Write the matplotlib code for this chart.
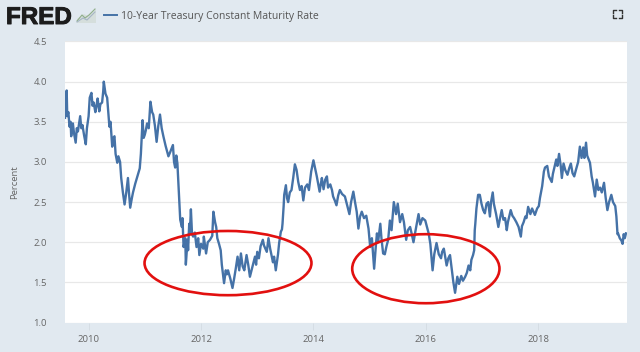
import matplotlib
matplotlib.use("Agg")
import matplotlib.pyplot as plt
from matplotlib.patches import Ellipse, Polygon
from matplotlib.lines import Line2D
import matplotlib.patheffects as pe

title = "10-Year Treasury Constant Maturity Rate"
y_label = "Percent"
x_ticks = [2010, 2012, 2014, 2016, 2018]
y_ticks = [1.0, 1.5, 2.0, 2.5, 3.0, 3.5, 4.0, 4.5]

years = [
 2009.58,2009.60,2009.61,2009.62,2009.64,2009.66,2009.68,2009.69,2009.72,2009.74,
 2009.77,2009.79,2009.81,2009.85,2009.87,2009.89,2009.92,2009.95,2009.97,2010.00,
 2010.02,2010.05,2010.07,2010.09,2010.12,2010.14,2010.16,2010.19,2010.21,2010.24,
 2010.26,2010.27,2010.30,2010.33,2010.37,2010.39,2010.42,2010.44,2010.46,2010.48,
 2010.51,2010.53,2010.56,2010.58,2010.61,2010.64,2010.67,2010.70,2010.72,2010.74,
 2010.77,2010.79,2010.83,2010.86,2010.91,2010.93,2010.96,2010.98,2011.00,2011.02,
 2011.04,2011.07,2011.10,2011.13,2011.15,2011.18,2011.21,2011.24,2011.27,2011.30,
 2011.33,2011.37,2011.42,2011.45,2011.50,2011.52,2011.54,2011.56,2011.58,2011.60,
 2011.63,2011.66,2011.67,2011.69,2011.72,2011.73,2011.76,2011.77,2011.79,2011.80,
 2011.82,2011.84,2011.86,2011.89,2011.92,2011.95,2011.97,2012.00,2012.04,2012.05,
 2012.09,2012.12,2012.16,2012.20,2012.22,2012.25,2012.27,2012.29,2012.32,2012.35,
 2012.37,2012.41,2012.44,2012.46,2012.48,2012.52,2012.56,2012.59,2012.62,2012.65,
 2012.68,2012.71,2012.74,2012.77,2012.81,2012.84,2012.87,2012.91,2012.96,2012.98,
 2013.00,2013.03,2013.06,2013.10,2013.12,2013.17,2013.20,2013.23,2013.28,2013.30,
 2013.33,2013.37,2013.39,2013.42,2013.44,2013.45,2013.47,2013.48,2013.51,2013.53,
 2013.55,2013.58,2013.61,2013.64,2013.67,2013.70,2013.73,2013.76,2013.79,2013.82,
 2013.85,2013.89,2013.92,2013.96,2014.00,2014.03,2014.06,2014.11,2014.13,2014.15,
 2014.18,2014.21,2014.24,2014.26,2014.30,2014.33,2014.35,2014.38,2014.41,2014.44,
 2014.47,2014.51,2014.56,2014.60,2014.64,2014.67,2014.71,2014.74,2014.77,2014.80,
 2014.83,2014.86,2014.90,2014.94,2014.98,2015.01,2015.04,2015.08,2015.11,2015.13,
 2015.15,2015.19,2015.21,2015.24,2015.27,2015.30,2015.33,2015.36,2015.39,2015.43,
 2015.47,2015.50,2015.54,2015.58,2015.61,2015.65,2015.68,2015.72,2015.75,2015.78,
 2015.81,2015.87,2015.90,2015.94,2015.99,2016.05,2016.08,2016.12,2016.15,2016.19,
 2016.23,2016.27,2016.29,2016.32,2016.37,2016.40,2016.43,2016.47,2016.49,2016.52,
 2016.56,2016.59,2016.63,2016.66,2016.70,2016.73,2016.76,2016.79,2016.81,2016.84,
 2016.86,2016.87,2016.88,2016.90,2016.93,2016.96,2016.99,2017.02,2017.05,2017.08,
 2017.11,2017.14,2017.16,2017.19,2017.21,2017.25,2017.29,2017.32,2017.35,2017.38,
 2017.41,2017.44,2017.46,2017.51,2017.54,2017.57,2017.61,2017.65,2017.69,2017.71,
 2017.74,2017.77,2017.79,2017.82,2017.86,2017.89,2017.94,2017.98,2018.01,2018.03,
 2018.07,2018.10,2018.12,2018.16,2018.19,2018.24,2018.26,2018.32,2018.34,2018.37,
 2018.40,2018.42,2018.45,2018.48,2018.52,2018.55,2018.58,2018.61,2018.64,2018.67,
 2018.71,2018.74,2018.77,2018.80,2018.82,2018.85,2018.87,2018.92,2018.95,2018.97,
 2019.01,2019.04,2019.07,2019.10,2019.13,2019.17,2019.20,2019.23,2019.26,2019.30,
 2019.33,2019.37,2019.39,2019.41,2019.42,2019.45,2019.48,2019.50,2019.52,2019.54,
 2019.56,
]
rates = [
 3.55,3.75,3.89,3.57,3.62,3.44,3.50,3.32,3.48,3.36,
 3.24,3.42,3.38,3.57,3.42,3.46,3.33,3.22,3.42,3.57,
 3.80,3.86,3.70,3.74,3.62,3.70,3.79,3.63,3.72,3.74,
 3.88,4.00,3.85,3.80,3.44,3.50,3.19,3.30,3.32,3.10,
 2.99,3.07,3.00,2.80,2.62,2.47,2.62,2.80,2.60,2.43,
 2.55,2.62,2.73,2.80,2.92,3.10,3.52,3.30,3.34,3.40,
 3.48,3.42,3.75,3.62,3.59,3.45,3.25,3.45,3.59,3.42,
 3.32,3.20,3.07,3.12,3.21,3.00,2.93,3.08,2.98,2.69,
 2.28,2.19,2.30,1.94,2.05,1.72,2.03,1.90,2.23,2.10,
 2.41,2.10,2.07,2.12,1.94,2.05,1.84,1.98,1.92,2.07,
 1.86,2.00,2.03,2.08,2.38,2.25,2.19,2.05,1.98,1.90,
 1.72,1.49,1.65,1.60,1.65,1.55,1.43,1.55,1.68,1.82,
 1.65,1.86,1.70,1.65,1.84,1.72,1.57,1.68,1.82,1.72,
 1.88,1.80,1.95,2.03,1.96,1.88,2.05,1.92,1.75,1.82,
 1.65,1.85,1.99,2.13,2.16,2.23,2.45,2.59,2.71,2.55,
 2.50,2.62,2.65,2.80,2.97,2.90,2.75,2.65,2.70,2.52,
 2.68,2.72,2.65,2.88,3.02,2.92,2.82,2.63,2.72,2.80,
 2.66,2.78,2.82,2.68,2.72,2.65,2.57,2.52,2.46,2.58,
 2.65,2.60,2.57,2.46,2.35,2.50,2.63,2.50,2.38,2.17,
 2.32,2.38,2.30,2.33,2.17,1.94,2.05,1.67,1.95,2.11,
 2.00,2.23,2.05,1.86,1.85,1.95,2.03,2.27,2.15,2.50,
 2.35,2.48,2.25,2.35,2.25,2.03,2.15,2.19,2.10,2.00,
 2.12,2.35,2.22,2.30,2.27,2.11,1.98,1.65,1.85,1.99,
 1.85,1.80,1.88,1.92,1.71,1.80,1.84,1.62,1.50,1.37,
 1.57,1.48,1.58,1.52,1.57,1.62,1.71,1.65,1.78,1.84,
 1.90,2.15,2.23,2.42,2.59,2.59,2.48,2.40,2.36,2.48,
 2.50,2.32,2.50,2.62,2.48,2.35,2.19,2.30,2.40,2.28,
 2.30,2.15,2.25,2.40,2.33,2.30,2.25,2.19,2.07,2.20,
 2.25,2.32,2.30,2.44,2.35,2.42,2.34,2.42,2.45,2.55,
 2.70,2.88,2.93,2.95,2.82,2.75,2.85,3.03,2.95,3.10,
 2.95,2.80,2.98,2.90,2.84,2.92,2.98,2.86,2.82,2.90,
 3.00,3.19,3.05,3.18,3.05,3.24,3.08,2.99,2.82,2.75,
 2.57,2.78,2.65,2.68,2.62,2.74,2.55,2.40,2.50,2.59,
 2.50,2.45,2.32,2.10,2.11,2.05,2.02,1.98,2.10,2.05,
 2.11,
]
assert len(years) == len(rates), (len(years), len(rates))

BG = "#e1e9f0"; TXT = "#666666"; BLUE = "#4572a7"; RED = "#e2100f"
plt.rcParams["font.family"] = ["Open Sans", "DejaVu Sans"]
W, H = 640, 352
fig = plt.figure(figsize=(6.4, 3.52), dpi=100, facecolor=BG)
ax = fig.add_axes([65/W, 1-322.5/H, 561.5/W, 281/H], facecolor="white")
ax.set_xlim(2009.58, 2019.57)
ax.set_ylim(1.0, 4.5)
ax.plot(years, rates, color=BLUE, lw=1.7, solid_joinstyle="round")
ax.add_patch(Ellipse((2012.48, 1.74), 2.97, 0.80, fill=False, ec=RED, lw=1.9, zorder=5))
ax.add_patch(Ellipse((2016.0, 1.67), 2.62, 0.86, fill=False, ec=RED, lw=1.9, zorder=5))
ax.set_xticks(x_ticks); ax.set_yticks(y_ticks)
ax.set_yticklabels([f"{v:.1f}" for v in y_ticks])
ax.grid(axis="y", color="#e8e8e8", lw=0.9); ax.set_axisbelow(True)
for s in ax.spines.values():
    s.set_visible(False)
ax.tick_params(axis="x", length=5, width=0.7, color="#d5dde4", labelcolor=TXT, labelsize=6.8, pad=4)
ax.tick_params(axis="y", length=0, labelcolor=TXT, labelsize=6.8, pad=13)
ax.set_ylabel(y_label, color=TXT, fontsize=6.8, labelpad=10)

ov = fig.add_axes([0, 0, 1, 1], facecolor="none")
ov.set_xlim(0, W); ov.set_ylim(H, 0); ov.axis("off")
ov.text(6, 24, "FRED", family="Liberation Sans", weight="bold", fontsize=17.4, color="#1c1c1c",
        va="baseline", path_effects=[pe.withStroke(linewidth=0.7, foreground="#1c1c1c")])
ov.add_patch(Polygon([(77, 23), (77, 19), (84, 14), (88, 16), (96, 9), (96, 23)], fc="#d5dedc", ec="none"))
ov.add_line(Line2D([77, 82, 85, 89, 95], [21, 15, 18, 15, 9], color="#8fae8a", lw=0.8))
ov.add_line(Line2D([77, 83, 87, 95], [22, 18, 20, 12], color="#a5b5c5", lw=0.8))
ov.add_line(Line2D([104, 117], [15, 15], color=BLUE, lw=1.4))
ov.text(121, 16, title, color="#555555", fontsize=7.5, va="center")
for cx, cy, dx, dy in [(613, 10, 1, 1), (622, 10, -1, 1), (613, 18, 1, -1), (622, 18, -1, -1)]:
    ov.add_line(Line2D([cx, cx, cx+3*dx], [cy+3*dy, cy, cy], color="#333333", lw=1.0))

fig.savefig("out.png", dpi=100, facecolor=BG)
